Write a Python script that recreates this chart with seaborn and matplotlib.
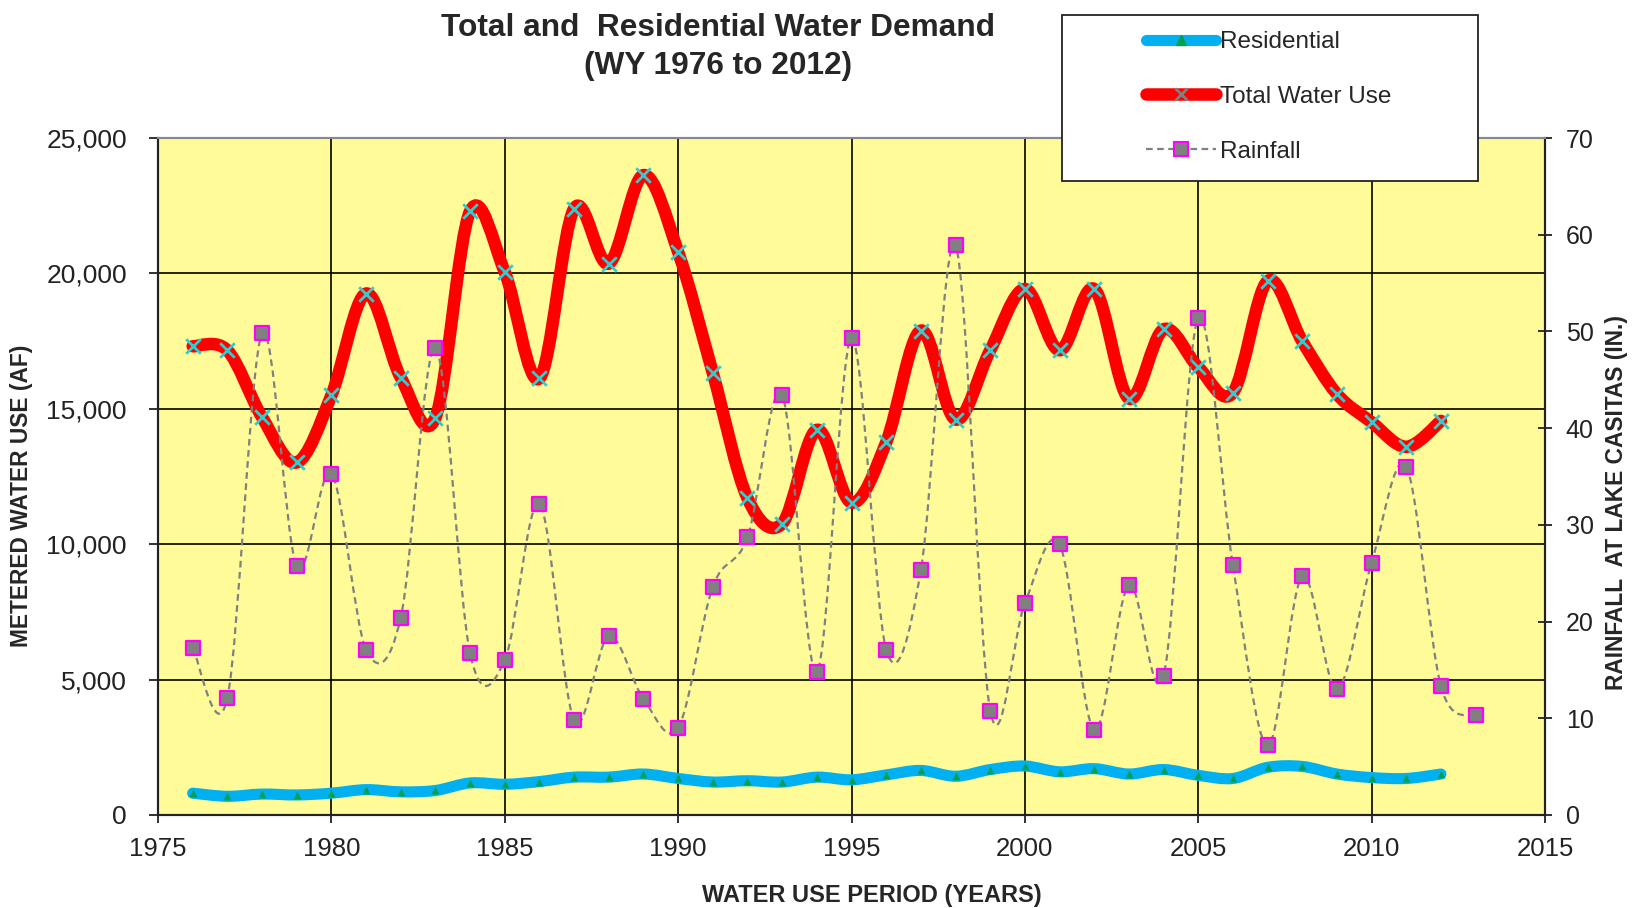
import numpy as np
import matplotlib
matplotlib.use("Agg")
import matplotlib.pyplot as plt
from matplotlib.path import Path
from matplotlib.patches import PathPatch, Rectangle
from matplotlib.lines import Line2D
import seaborn as sns

# water years
years = list(range(1976, 2013))
rain_years = list(range(1976, 2014))

# metered water use (AF)
total_use = [17310, 17160, 14690, 13020, 15495, 19257, 16155, 14670, 22294, 20050,
             16122, 22393, 20363, 23630, 20792, 16320, 11700, 10759, 14224, 11535,
             13762, 17888, 14604, 17162, 19422, 17162, 19422, 15380, 17937, 16535,
             15594, 19719, 17492, 15545, 14505, 13597, 14554]
residential = [806, 690, 773, 740, 806, 937, 855, 905, 1184, 1135,
               1234, 1398, 1398, 1513, 1349, 1217, 1266, 1217, 1398, 1300,
               1480, 1645, 1431, 1678, 1809, 1595, 1711, 1513, 1678, 1464,
               1349, 1760, 1793, 1513, 1382, 1349, 1513]
# rainfall at Lake Casitas (in.)
rainfall = [17.3, 12.1, 49.8, 25.7, 35.3, 17.1, 20.4, 48.3, 16.7, 16.0,
            32.2, 9.8, 18.5, 12.0, 9.0, 23.6, 28.7, 43.4, 14.8, 49.3,
            17.1, 25.3, 58.9, 10.8, 21.9, 28.0, 8.8, 23.8, 14.4, 51.4,
            25.8, 7.2, 24.7, 13.0, 26.1, 36.0, 13.3, 10.3]

x_ticks = list(range(1975, 2016, 5))
left_ticks = list(range(0, 25001, 5000))
right_ticks = list(range(0, 71, 10))


def smooth_path(xs, ys):
    # Excel-style smoothed line: Bezier segments through the data points
    pts = np.column_stack([xs, ys]).astype(float)
    n = len(pts)
    verts = [pts[0]]
    codes = [Path.MOVETO]
    for i in range(n - 1):
        p0 = pts[i - 1] if i > 0 else pts[i]
        p1, p2 = pts[i], pts[i + 1]
        p3 = pts[i + 2] if i + 2 < n else pts[i + 1]
        verts += [p1 + (p2 - p0) / 6.0, p2 - (p3 - p1) / 6.0, p2]
        codes += [Path.CURVE4] * 3
    return Path(verts, codes)


sns.set_style("white")
plt.rcParams['font.family'] = ['Liberation Sans', 'DejaVu Sans']

W, H = 1635.0, 908.0
fig = plt.figure(figsize=(16.35, 9.08), dpi=100)
ax = fig.add_axes([158 / W, 1 - 815 / H, (1545 - 158) / W, (815 - 138) / H])
ax.set_facecolor('#FFFB99')
ax2 = ax.twinx()

# smoothed lines
ax.add_patch(PathPatch(smooth_path(years, total_use), fill=False, edgecolor='#FF0000',
                       lw=9, capstyle='round', joinstyle='round', zorder=3))
ax.add_patch(PathPatch(smooth_path(years, residential), fill=False, edgecolor='#00B0F0',
                       lw=8, capstyle='round', joinstyle='round', zorder=3))
ax2.add_patch(PathPatch(smooth_path(rain_years, rainfall), fill=False, edgecolor='#808080',
                        lw=1.6, linestyle=(0, (3, 2)), zorder=3))

# markers
sns.scatterplot(x=years, y=total_use, ax=ax, marker='x', color='#33CCCC', s=110,
                linewidth=2, zorder=4)
sns.scatterplot(x=years, y=residential, ax=ax, marker='^', color='#00A050', s=32,
                linewidth=0, zorder=4)
sns.scatterplot(x=rain_years, y=rainfall, ax=ax2, marker='s', color='#808080', s=105,
                edgecolor='#FF00FF', linewidth=1.6, zorder=4)

# axes
ax.set_xlim(1975, 2015)
ax.set_ylim(0, 25000)
ax2.set_ylim(0, 70)
ax.set_xticks(x_ticks)
ax.set_yticks(left_ticks)
ax.set_yticklabels([f'{v:,}' for v in left_ticks])
ax2.set_yticks(right_ticks)

ax.set_axisbelow(True)
ax.grid(True, color='black', lw=1.2)
ax2.grid(False)

for a in (ax, ax2):
    for s in a.spines.values():
        s.set_color('#222222')
        s.set_linewidth(1.5)
    a.spines['top'].set_color('#888888')

ax.tick_params(axis='y', direction='out', length=6.5, width=1.3, pad=16, labelsize=19,
               left=True, colors='#222222')
ax.tick_params(axis='x', direction='out', length=6, width=1.3, pad=10, labelsize=18.5,
               bottom=True, colors='#222222')
ax2.tick_params(axis='y', direction='inout', length=10, width=1.3, pad=10, labelsize=18,
                right=True, colors='#222222')

ax.set_xlabel('WATER USE PERIOD (YEARS)', fontsize=17, fontweight='bold')
ax.xaxis.set_label_coords(0.515, -0.102)
ax.set_ylabel('METERED WATER USE (AF)', fontsize=16.4, fontweight='bold')
ax.yaxis.set_label_coords(-0.090, 0.471)
ax2.set_ylabel('RAINFALL  AT LAKE CASITAS (IN.)', fontsize=16.4, fontweight='bold',
               rotation=90)
ax2.yaxis.set_label_coords(1.043, 0.461)

fig.text(718 / W, 1 - 28 / H, 'Total and  Residential Water Demand',
         ha='center', va='center', fontsize=22.8, fontweight='bold')
fig.text(718 / W, 1 - 66 / H, '(WY 1976 to 2012)',
         ha='center', va='center', fontsize=22.8, fontweight='bold')

# legend box overlapping the top of the plot
box = Rectangle((1062 / W, 1 - 181 / H), (1478 - 1062) / W, (181 - 15) / H,
                transform=fig.transFigure, facecolor='white', edgecolor='#222222',
                lw=1.3, zorder=10)
fig.patches.append(box)

handles = [
    Line2D([], [], color='#00B0F0', lw=8, solid_capstyle='round', marker='^',
           markersize=7, markerfacecolor='#00A050', markeredgecolor='#00A050'),
    Line2D([], [], color='#FF0000', lw=9, solid_capstyle='round', marker='x',
           markersize=9, markeredgecolor='#808080', markeredgewidth=2),
    Line2D([], [], color='#808080', lw=1.6, linestyle=(0, (3, 2)), marker='s',
           markersize=10, markerfacecolor='#808080', markeredgecolor='#FF00FF',
           markeredgewidth=1.5),
]
leg = fig.legend(handles, ['Residential', 'Total Water Use', 'Rainfall'],
                 loc='upper left', bbox_to_anchor=(1146 / W, 1 - 31 / H),
                 frameon=False, fontsize=17.5, handlelength=2.9, handletextpad=0.15,
                 labelspacing=1.35, borderpad=0, borderaxespad=0)
leg.set_zorder(11)

fig.savefig('out.png', dpi=100)
